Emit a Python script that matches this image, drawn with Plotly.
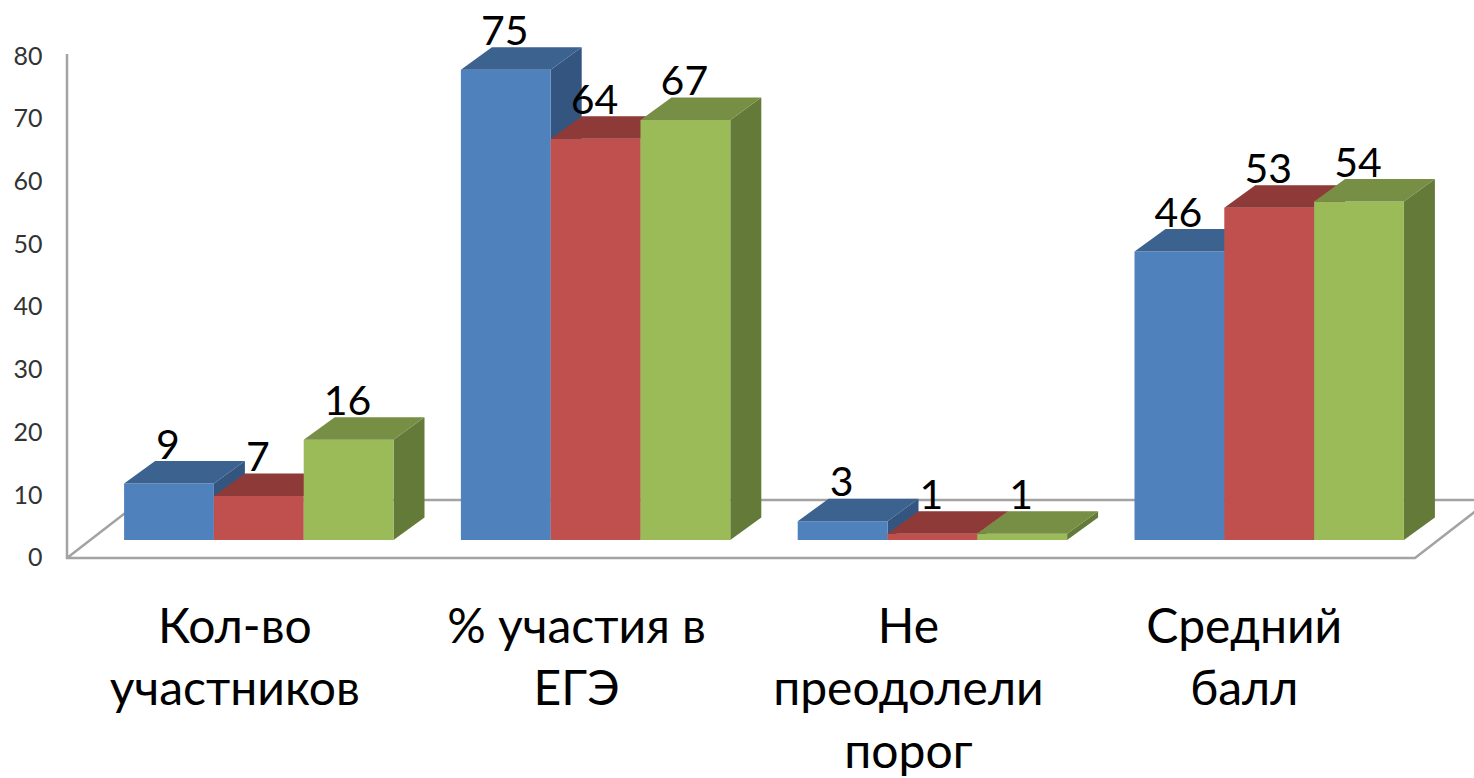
import plotly.graph_objects as go

categories = ["Кол-во<br>участников", "% участия в<br>ЕГЭ", "Не<br>преодолели<br>порог", "Средний<br>балл"]
series_a = [9, 75, 3, 46]
series_b = [7, 64, 1, 53]
series_c = [16, 67, 1, 54]
y_ticks = [0, 10, 20, 30, 40, 50, 60, 70, 80]
label_shift_px = [24, 19, 24, 25]

W, H = 1474, 778
PX_X = 336.8      # px per category
PX_Y = 6.27       # px per value unit
X0_PX = 258.8     # px of the first group's centre
Y0_PX = 540       # px of value 0 at the front plane
BOTTOM_PX = 594   # bottom of plot domain

bw = 89.8 / PX_X
dx = 31 / PX_X
dy = 22.5 / PX_Y
floor_off = 18 / PX_Y     # floor line sits below the bars' base
tick_off = 17.5 / PX_Y
label_gap = 35 / PX_Y
x_lo = -X0_PX / PX_X
x_hi = (W - X0_PX) / PX_X

styles = [
    (series_a, -1, "#4F81BD", "#3C6290", "#335580"),
    (series_b, 0, "#C0504D", "#8E3A38", "#7A3230"),
    (series_c, 1, "#9BBB59", "#778F45", "#647A39"),
]

fig = go.Figure()

# walls / floor outline
ax_x = (67 - X0_PX) / PX_X
fr_x = (1415 - X0_PX) / PX_X
depth_x = 75 / PX_X
depth_y = 58 / PX_Y
wall_top = (Y0_PX - 54) / PX_Y
fig.add_trace(go.Scatter(
    x=[ax_x, ax_x, fr_x, fr_x + depth_x, ax_x + depth_x, ax_x],
    y=[wall_top, -floor_off, -floor_off, -floor_off + depth_y, -floor_off + depth_y, -floor_off],
    mode="lines", line=dict(color="#A3A3A3", width=2.5), zorder=0,
    hoverinfo="skip", showlegend=False))

for n, (vals, off, front, top, side) in enumerate(styles):
    xs = [i + off * bw for i in range(len(vals))]
    z = 1 + n * 2
    fig.add_trace(go.Bar(x=xs, y=vals, width=bw, marker=dict(color=front, line=dict(width=0)),
                         zorder=z + 1, hoverinfo="skip", showlegend=False))
    tx, ty, sx, sy = [], [], [], []
    for c, v in zip(xs, vals):
        l, r = c - bw / 2, c + bw / 2
        tx += [l, r, r + dx, l + dx, l, None]
        ty += [v, v, v + dy, v + dy, v, None]
        sx += [r, r + dx, r + dx, r, r, None]
        sy += [v, v + dy, dy, 0, v, None]
    fig.add_trace(go.Scatter(x=tx, y=ty, mode="lines", fill="toself", fillcolor=top,
                             line=dict(width=0, color=top), zorder=z + 1,
                             hoverinfo="skip", showlegend=False))
    fig.add_trace(go.Scatter(x=sx, y=sy, mode="lines", fill="toself", fillcolor=side,
                             line=dict(width=0, color=side), zorder=z,
                             hoverinfo="skip", showlegend=False))

for vals, off, *_ in styles:
    fig.add_trace(go.Scatter(
        x=[i + off * bw - 1 / PX_X for i in range(len(vals))],
        y=[v + label_gap for v in vals],
        text=[str(v) for v in vals], mode="text", textposition="middle center",
        textfont=dict(family="Lato", size=41, color="#000000"),
        cliponaxis=False, zorder=20, hoverinfo="skip", showlegend=False))

fig.update_layout(
    width=W, height=H, autosize=False, margin=dict(l=0, r=0, t=0, b=0, autoexpand=False),
    paper_bgcolor="white", plot_bgcolor="white", barmode="overlay",
    xaxis=dict(range=[x_lo, x_hi], domain=[0, 1], showgrid=False, zeroline=False, showline=False,
               automargin=False,
               tickmode="array", tickvals=[i - s / PX_X for i, s in enumerate(label_shift_px)],
               ticktext=categories, ticks="", tickangle=0,
               tickfont=dict(family="Lato", size=48, color="#000000")),
    yaxis=dict(range=[-(BOTTOM_PX - Y0_PX) / PX_Y, Y0_PX / PX_Y],
               domain=[(H - BOTTOM_PX) / H, 1], showgrid=False, zeroline=False, showline=False,
               automargin=False,
               anchor="free", position=42.5 / W,
               tickmode="array", tickvals=[v - tick_off for v in y_ticks],
               ticktext=[str(v) for v in y_ticks], ticks="",
               tickfont=dict(family="Lato", size=25, color="#333333")),
)
fig.write_html("out.html", config=dict(displayModeBar=False),
               post_script="document.body.style.margin='0';document.body.style.overflow='hidden';")
